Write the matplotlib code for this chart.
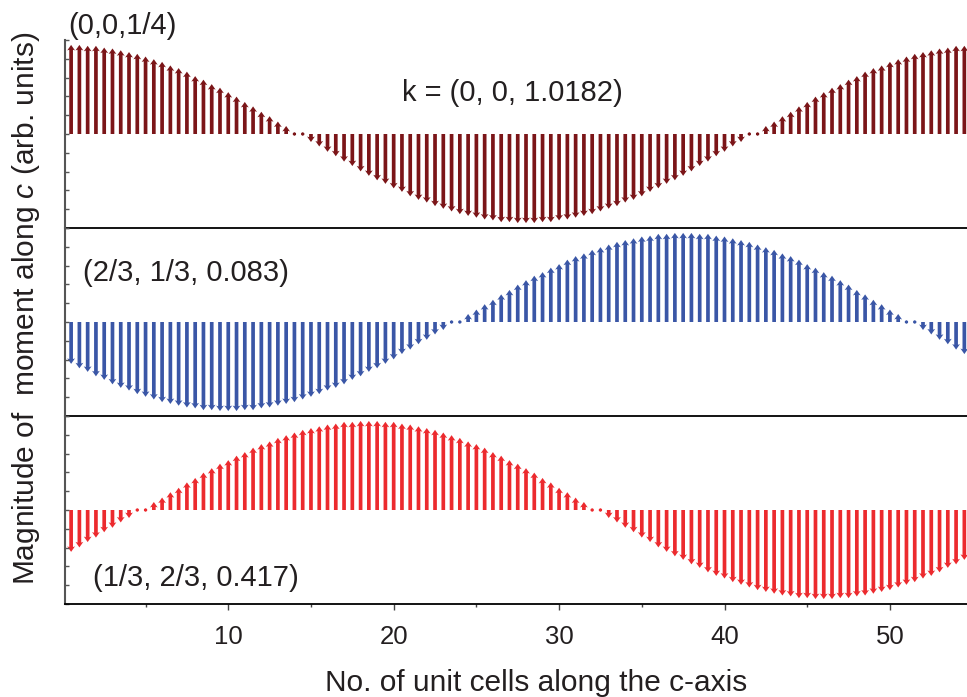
import numpy as np
import matplotlib.pyplot as plt
from matplotlib.ticker import MultipleLocator

plt.rcParams['font.family'] = ['Liberation Sans', 'DejaVu Sans']
plt.rcParams['mathtext.fontset'] = 'custom'
plt.rcParams['mathtext.it'] = 'Liberation Sans:italic'
plt.rcParams['mathtext.rm'] = 'Liberation Sans'

# positions along c (half unit-cell steps)
z = np.arange(1, 110) * 0.5

# moment along c (arb. units)
top_vals = [1.00, 1.00, 0.99, 0.99, 0.97, 0.96, 0.94, 0.92, 0.90, 0.87,
            0.84, 0.81, 0.77, 0.74, 0.70, 0.65, 0.61, 0.56, 0.52, 0.47,
            0.42, 0.36, 0.31, 0.25, 0.20, 0.14, 0.09, 0.03, -0.03, -0.09,
            -0.14, -0.20, -0.25, -0.31, -0.36, -0.42, -0.47, -0.52, -0.56, -0.61,
            -0.65, -0.70, -0.74, -0.77, -0.81, -0.84, -0.87, -0.90, -0.92, -0.94,
            -0.96, -0.97, -0.99, -0.99, -1.00, -1.00, -1.00, -0.99, -0.99, -0.97,
            -0.96, -0.94, -0.92, -0.90, -0.87, -0.84, -0.81, -0.77, -0.74, -0.70,
            -0.65, -0.61, -0.56, -0.52, -0.47, -0.42, -0.36, -0.31, -0.25, -0.20,
            -0.14, -0.09, -0.03, 0.03, 0.09, 0.14, 0.20, 0.25, 0.31, 0.36,
            0.42, 0.47, 0.52, 0.56, 0.61, 0.65, 0.70, 0.74, 0.77, 0.81,
            0.84, 0.87, 0.90, 0.92, 0.94, 0.96, 0.97, 0.99, 0.99]

mid_vals = [-0.47, -0.52, -0.56, -0.61, -0.65, -0.70, -0.74, -0.77, -0.81, -0.84,
            -0.87, -0.90, -0.92, -0.94, -0.96, -0.97, -0.99, -0.99, -1.00, -1.00,
            -1.00, -0.99, -0.99, -0.97, -0.96, -0.94, -0.92, -0.90, -0.87, -0.84,
            -0.81, -0.77, -0.74, -0.70, -0.65, -0.61, -0.56, -0.52, -0.47, -0.42,
            -0.36, -0.31, -0.25, -0.20, -0.14, -0.09, -0.03, 0.03, 0.09, 0.14,
            0.20, 0.25, 0.31, 0.36, 0.42, 0.47, 0.52, 0.56, 0.61, 0.65,
            0.70, 0.74, 0.77, 0.81, 0.84, 0.87, 0.90, 0.92, 0.94, 0.96,
            0.97, 0.99, 0.99, 1.00, 1.00, 1.00, 0.99, 0.99, 0.97, 0.96,
            0.94, 0.92, 0.90, 0.87, 0.84, 0.81, 0.77, 0.74, 0.70, 0.65,
            0.61, 0.56, 0.52, 0.47, 0.42, 0.36, 0.31, 0.25, 0.20, 0.14,
            0.09, 0.03, -0.03, -0.09, -0.14, -0.20, -0.25, -0.31, -0.36]

bot_vals = [-0.47, -0.42, -0.36, -0.31, -0.25, -0.20, -0.14, -0.09, -0.03, 0.03,
            0.09, 0.14, 0.20, 0.25, 0.31, 0.36, 0.42, 0.47, 0.52, 0.56,
            0.61, 0.65, 0.70, 0.74, 0.77, 0.81, 0.84, 0.87, 0.90, 0.92,
            0.94, 0.96, 0.97, 0.99, 0.99, 1.00, 1.00, 1.00, 0.99, 0.99,
            0.97, 0.96, 0.94, 0.92, 0.90, 0.87, 0.84, 0.81, 0.77, 0.74,
            0.70, 0.65, 0.61, 0.56, 0.52, 0.47, 0.42, 0.36, 0.31, 0.25,
            0.20, 0.14, 0.09, 0.03, -0.03, -0.09, -0.14, -0.20, -0.25, -0.31,
            -0.36, -0.42, -0.47, -0.52, -0.56, -0.61, -0.65, -0.70, -0.74, -0.77,
            -0.81, -0.84, -0.87, -0.90, -0.92, -0.94, -0.96, -0.97, -0.99, -0.99,
            -1.00, -1.00, -1.00, -0.99, -0.99, -0.97, -0.96, -0.94, -0.92, -0.90,
            -0.87, -0.84, -0.81, -0.77, -0.74, -0.70, -0.65, -0.61, -0.56]

labels = ['(0,0,1/4)', '(2/3, 1/3, 0.083)', '(1/3, 2/3, 0.417)']
colors = ['#7b1518', '#3a56a6', '#ec2a2e']
txt_col = '#231f20'

W, H = 967, 697
fig = plt.figure(figsize=(W / 100, H / 100), dpi=100)

# panel edges in pixels (top, bottom)
edges = [(40, 228), (228, 416), (416, 604)]
series = [top_vals, mid_vals, bot_vals]

axes = []
for (t, b), vals, col in zip(edges, series, colors):
    ax = fig.add_axes([65 / W, 1 - b / H, (W - 65) / W, (b - t) / H])
    v = np.array(vals)
    ax.quiver(z, np.zeros_like(z), np.zeros_like(z), v, color=col,
              angles='xy', scale_units='xy', scale=1,
              width=0.0041, headwidth=2.1, headlength=1.5, headaxislength=1.3)
    ax.set_xlim(0.13, 54.66)
    ax.set_ylim(-1.055, 1.055)
    ax.set_yticks(np.linspace(-1.055, 1.055, 11))
    ax.set_yticklabels([])
    ax.tick_params(axis='y', direction='in', length=3, width=1, color='#555555')
    ax.spines['top'].set_visible(False)
    ax.spines['right'].set_visible(False)
    ax.spines['left'].set_color('#555555')
    ax.spines['left'].set_linewidth(1.5)
    ax.spines['bottom'].set_color('black')
    ax.spines['bottom'].set_linewidth(1.3)
    ax.patch.set_alpha(0)
    axes.append(ax)

for ax in axes[:2]:
    ax.set_xticks([])

axb = axes[2]
axb.set_xticks([10, 20, 30, 40, 50])
axb.xaxis.set_minor_locator(MultipleLocator(5))
axb.tick_params(axis='x', which='major', direction='out', length=4, width=1,
                color='#444444', labelsize=18.5, labelcolor=txt_col, pad=11)
axb.tick_params(axis='x', which='minor', direction='out', length=2.5, width=1,
                color='#444444')

fig.text(68 / W, 1 - 26 / H, labels[0], fontsize=21, color=txt_col, ha='left', va='center')
fig.text(402 / W, 1 - 93 / H, 'k = (0, 0, 1.0182)', fontsize=21, color=txt_col, ha='left', va='center')
fig.text(83 / W, 1 - 273 / H, labels[1], fontsize=21, color=txt_col, ha='left', va='center')
fig.text(93 / W, 1 - 578 / H, labels[2], fontsize=21, color=txt_col, ha='left', va='center')

fig.text(536 / W, 1 - 683 / H, 'No. of unit cells along the c-axis', fontsize=21.5,
         color=txt_col, ha='center', va='center')
fig.text(26 / W, 1 - 308 / H, 'Magnitude of  moment along $c$ (arb. units)', fontsize=21.5,
         color=txt_col, ha='center', va='center', rotation=90)

plt.savefig('out.png', dpi=100)
plt.close()
